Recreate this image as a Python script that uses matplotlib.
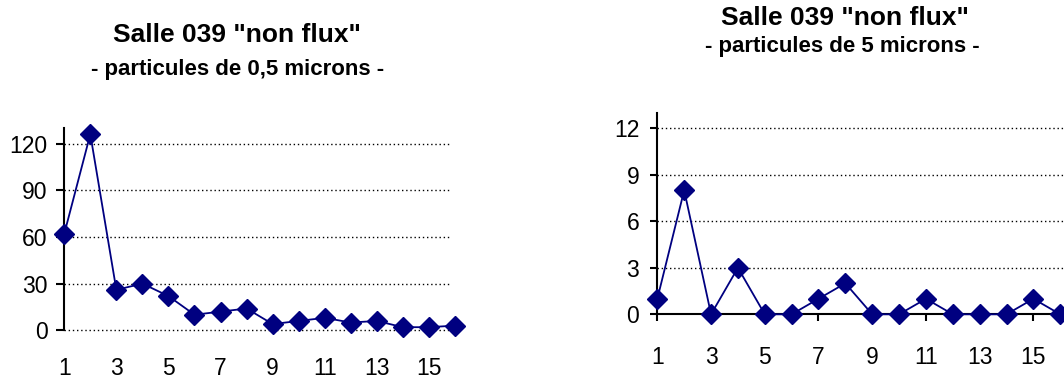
import numpy as np
import matplotlib.pyplot as plt

plt.rcParams['font.family'] = ['Liberation Sans', 'DejaVu Sans']

# données
mesures = list(range(1, 17))
part_05 = [62, 126, 26, 30, 22, 10, 12, 14, 4, 6, 8, 5, 6, 2, 2, 3]
part_5 = [1, 8, 0, 3, 0, 0, 1, 2, 0, 0, 1, 0, 0, 0, 1, 0]
x_labels = ['1', '3', '5', '7', '9', '11', '13', '15']
titre = 'Salle 039 "non flux"'
sous_titre_05 = '- particules de 0,5 microns -'
sous_titre_5 = '- particules de 5 microns -'

navy = '#000080'
fs_ticks = 16.5

fig = plt.figure(figsize=(10.64, 3.78), dpi=100)

# graphique de gauche : 0,5 microns
ax1 = fig.add_axes([0.0604, 0.1262, 0.3625, 0.5352])
ax1.plot(mesures, part_05, color=navy, lw=1.3, marker='D', ms=10.5,
         clip_on=False, zorder=3)
ax1.set_xlim(1, 15.81)
ax1.set_ylim(0, 130)
ax1.set_yticks([0, 30, 60, 90, 120])
ax1.set_xticks(mesures[::2])
ax1.set_xticklabels(x_labels)
for v in [0, 30, 60, 90, 120]:
    ax1.axhline(v, color='black', lw=1.0, ls=(0, (1, 2)), zorder=1,
                clip_on=False)
for s in ['top', 'right', 'bottom']:
    ax1.spines[s].set_visible(False)
ax1.spines['left'].set_linewidth(1.5)
ax1.tick_params(axis='y', length=6, width=1.5, labelsize=fs_ticks, pad=6)
ax1.tick_params(axis='x', length=0, labelsize=fs_ticks, pad=19)

fig.text(0.223, 0.907, titre, ha='center', va='center', fontsize=19,
         fontweight='bold')
fig.text(0.223, 0.817, sous_titre_05, ha='center', va='center', fontsize=16,
         fontweight='bold')

# graphique de droite : 5 microns
ax2 = fig.add_axes([0.6178, 0.1685, 0.3822, 0.5333])
ax2.plot(mesures, part_5, color=navy, lw=1.3, marker='D', ms=10.5,
         clip_on=False, zorder=3)
ax2.set_xlim(1, 16.14)
ax2.set_ylim(0, 13)
ax2.set_yticks([0, 3, 6, 9, 12])
ax2.set_xticks(mesures[::2])
ax2.set_xticklabels(x_labels)
for v in [3, 6, 9, 12]:
    ax2.axhline(v, color='black', lw=1.0, ls=(0, (1, 2)), zorder=1)
for s in ['top', 'right']:
    ax2.spines[s].set_visible(False)
ax2.spines['left'].set_linewidth(1.5)
ax2.spines['bottom'].set_linewidth(1.5)
ax2.tick_params(axis='y', length=5, width=1.5, labelsize=fs_ticks, pad=8)
ax2.tick_params(axis='x', length=5, width=1.5, labelsize=fs_ticks, pad=18)

fig.text(0.794, 0.952, titre, ha='center', va='center', fontsize=19,
         fontweight='bold')
fig.text(0.792, 0.876, sous_titre_5, ha='center', va='center', fontsize=16,
         fontweight='bold')

fig.savefig('out.png', dpi=100)
